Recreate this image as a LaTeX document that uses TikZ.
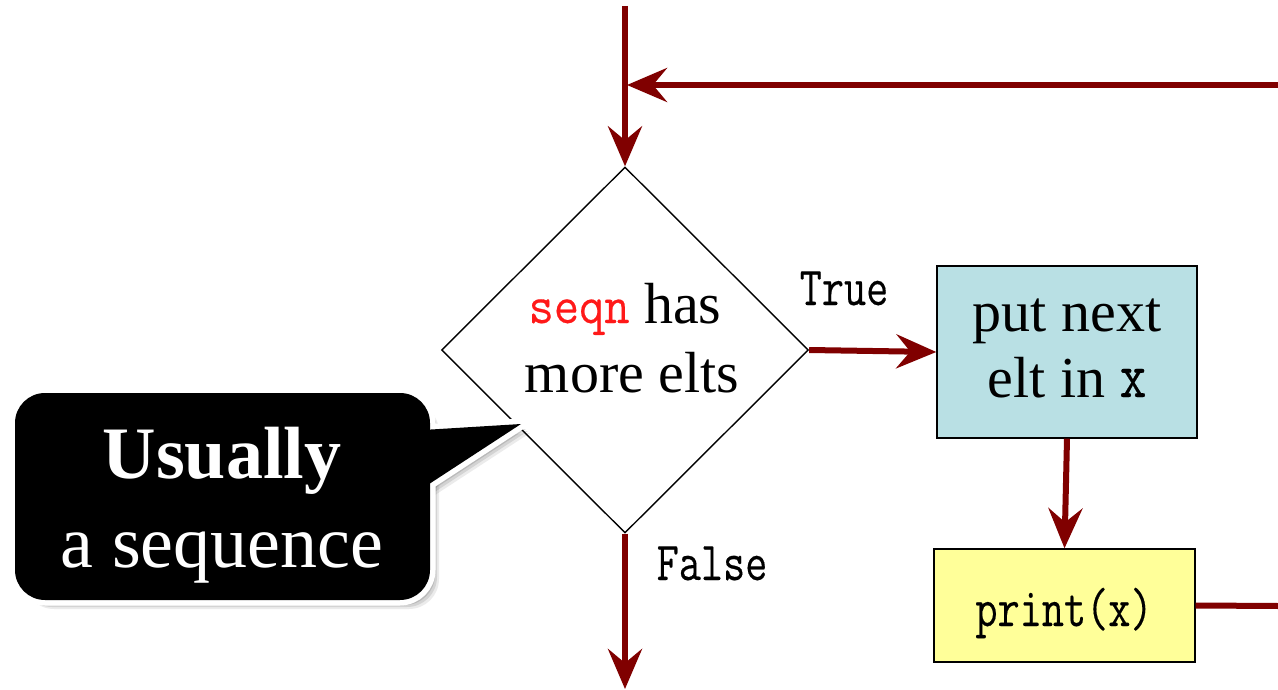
\documentclass[tikz,border=0pt]{standalone}
\usepackage{fontspec}
\usepackage{graphicx}
\setmainfont{Liberation Serif}
\newfontfamily\codefont{Latin Modern Mono}[FakeBold=0.3]
\usetikzlibrary{arrows.meta,shapes.geometric,calc}
\definecolor{flow}{RGB}{128,0,0}
\definecolor{boxteal}{RGB}{185,224,228}
\definecolor{boxyellow}{RGB}{255,255,153}
\definecolor{seqred}{RGB}{255,25,25}
% typewriter text, set a little taller than the plain mono face
\newcommand\code[2][1.28]{\scalebox{1}[#1]{\codefont #2}}
\tikzset{
  flowline/.style={draw=flow, line width=6pt},
  flowarrow/.style={flowline, -{Stealth[length=40pt,width=34pt,inset=14pt]}},
  stepbox/.style={rectangle, draw=black, line width=1.4pt, inner sep=0pt},
  textline/.style={anchor=base, inner sep=0pt, font=\fontsize{58}{58}\selectfont},
  edgelabel/.style={font=\fontsize{43}{43}\selectfont, anchor=base, inner sep=0pt},
  bubbletext/.style={text=white, anchor=base, inner sep=0pt}
}
\begin{document}
\begin{tikzpicture}[x=1pt,y=-1pt]
\useasboundingbox (0,0) rectangle (1278,690);

% decision diamond and its question
\node[diamond, draw=black, line width=1.4pt, aspect=1, inner sep=0pt,
      minimum width=367pt, minimum height=366pt] (test) at (625,350) {};
\node[textline] (q1) at (625,323)
  {{\fontsize{49}{49}\selectfont\color{seqred}\code[1.1]{seqn}} has};
\node[textline] (q2) at (632,392) {more elts};

% loop body
\node[stepbox, fill=boxteal, minimum width=260pt, minimum height=172pt] (body) at (1067,352) {};
\node[textline] (b1) at (1067,331) {put next};
\node[textline] (b2) at (1067,397) {elt in {\fontsize{52}{52}\selectfont\code[1.25]{x}}};
\node[stepbox, fill=boxyellow, minimum width=261pt, minimum height=113pt] (show) at (1064.5,605.5) {};
\node[edgelabel] (p1) at (1064,626) {\code{print(x)}};

% branch labels
\node[edgelabel] (truelbl) at (844,305) {\code{True}};
\node[edgelabel] (falselbl) at (712,580) {\code{False}};

% free ends of the connectors
\coordinate (topin) at (625,6);
\coordinate (loopin) at (1278,85);
\coordinate (loopjoin) at (627,85);
\coordinate (exitdown) at (625,689);
\coordinate (loopout) at (1278,606);

\draw[flowarrow] (topin) -- (test.north);
\draw[flowarrow] (loopin) -- (loopjoin);
\draw[flowarrow] (test.south) -- (exitdown);
\draw[flowarrow] (test.east) -- (body.west);
\draw[flowarrow] (body.south) -- (show.north);
\draw[flowline] (show.east) -- (loopout);

% speech bubble: soft shadow, white rim, black body
\foreach \d/\o in {9/0.08,7/0.10,5/0.12} {
  \fill[black, opacity=\o, rounded corners=30pt, shift={(\d,\d)}] (15,393) rectangle (430,600);
  \fill[black, opacity=\o, shift={(\d,\d)}] (423,430) -- (521,424) -- (423,488) -- cycle;
}
\draw[white, line width=11pt, rounded corners=30pt] (15,393) rectangle (430,600);
\draw[white, line width=11pt, line join=round] (423,430) -- (521,424) -- (423,488) -- cycle;
\fill[black, rounded corners=30pt] (15,393) rectangle (430,600);
\fill[black] (423,430) -- (521,424) -- (423,488) -- cycle;

\node[bubbletext, font=\fontsize{74}{74}\selectfont\bfseries] (usually) at (222,478) {Usually};
\node[bubbletext, font=\fontsize{74}{74}\selectfont] (aseq) at (222,567) {a sequence};
\end{tikzpicture}
\end{document}
